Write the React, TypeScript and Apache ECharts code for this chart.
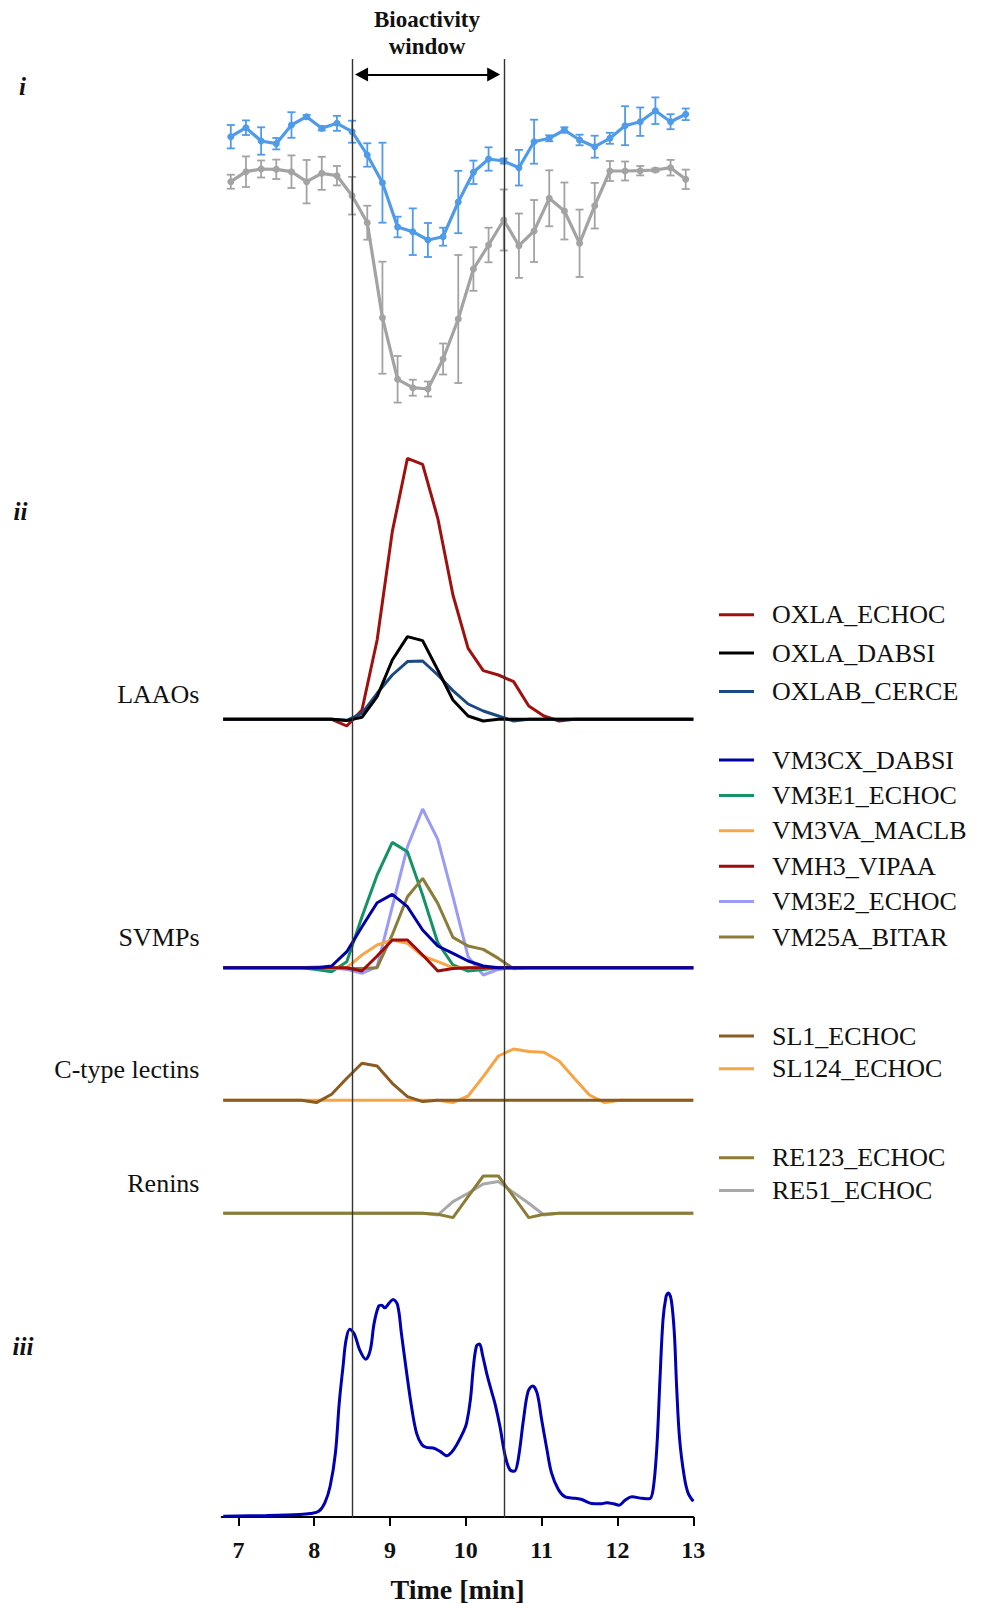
import React, { useEffect, useRef } from "react";
import * as echarts from "echarts";

// ---------- axis ----------
const X_MIN = 6.78;
const X_MAX = 13;
const TIME_TICKS = [7, 8, 9, 10, 11, 12, 13];
const WINDOW_START = 8.5;
const WINDOW_END = 10.5;

// ---------- panel i : bioactivity ----------
const BIO_TIMES = [6.9, 7.1, 7.3, 7.5, 7.7, 7.9, 8.1, 8.3, 8.5, 8.7, 8.9, 9.1, 9.3, 9.5, 9.7, 9.9, 10.1, 10.3, 10.5, 10.7, 10.9, 11.1, 11.3, 11.5, 11.7, 11.9, 12.1, 12.3, 12.5, 12.7, 12.9];
const BLUE_MEAN = [283.3, 292.3, 279, 276.3, 295, 303.3, 291.7, 296.7, 288.3, 265, 237.3, 193, 188.3, 180, 183.3, 218, 247.7, 261, 259, 252.3, 278.3, 281.7, 290, 280, 273.3, 281.7, 294.3, 298.3, 309.3, 298.3, 305.7];
const BLUE_ERR = [11.7, 7.3, 13.7, 5.7, 12.8, 1.7, 2.2, 7.5, 11, 11.7, 40, 10.3, 23.3, 17, 9, 31.2, 11.7, 11.7, 2.5, 17.8, 22, 3, 2.7, 5.3, 11, 5.5, 19.5, 14.2, 13.3, 7.5, 5.8];
const GRAY_MEAN = [238.3, 248.3, 251, 250.7, 248.3, 238.3, 246.7, 244.3, 224.3, 197.3, 102.3, 40.7, 32.3, 31, 61, 101, 151, 175, 200, 174.3, 189, 221.7, 209, 176.7, 214.3, 249, 249, 249.3, 250, 252.3, 240.7];
const GRAY_ERR = [7, 15.3, 8.5, 9.7, 16.3, 21.7, 16.5, 9.7, 18.8, 17, 56, 23.3, 8, 7.5, 15.5, 64, 21.8, 17.3, 30.5, 32.2, 31, 28, 28.5, 33.7, 22.8, 10, 9.5, 4.7, 1.7, 7.8, 9.7];

// ---------- panel ii : proteomics ----------
const FRACTION_TIMES = [6.8, 7.03, 7.23, 7.43, 7.63, 7.83, 8.03, 8.23, 8.43, 8.63, 8.83, 9.03, 9.23, 9.43, 9.63, 9.83, 10.03, 10.23, 10.43, 10.63, 10.83, 11.03, 11.23, 11.43, 11.63, 11.83, 12.03, 12.23, 12.43, 12.63, 12.83, 13.0];

const OXLA_ECHOC = [0, 0, 0, 0, 0, 0, 0, 0, -6.7, 9.3, 79.3, 187.7, 261, 255, 201, 124.3, 71, 48.7, 44.3, 37.7, 13.3, 3.3, -1.7, 0, 0, 0, 0, 0, 0, 0, 0, 0];
const OXLA_DABSI = [0, 0, 0, 0, 0, 0, 0, 0, -1.3, 2, 22.7, 59.3, 82.7, 78.7, 49.3, 19.3, 3.3, -1.7, 0, 0, 0, 0, 0, 0, 0, 0, 0, 0, 0, 0, 0, 0];
const OXLAB_CERCE = [0, 0, 0, 0, 0, 0, 0, 0, -1, 6, 26, 44.3, 57.7, 58.3, 44.3, 28.7, 15.3, 8.3, 3.3, -1.7, 0, 0, 0, 0, 0, 0, 0, 0, 0, 0, 0, 0];

const VM3CX_DABSI = [0, 0, 0, 0, 0, 0, 0, 1.7, 16, 41, 65, 73.3, 61, 37.7, 21.7, 14.3, 6.7, 1.7, 0, 0, 0, 0, 0, 0, 0, 0, 0, 0, 0, 0, 0, 0];
const VM3E1_ECHOC = [0, 0, 0, 0, 0, 0, -1.7, -4, 6, 51, 92.7, 125.3, 116, 72.7, 25, 2.7, -3.3, -1.7, 0, 0, 0, 0, 0, 0, 0, 0, 0, 0, 0, 0, 0, 0];
const VM3VA_MACLB = [0, 0, 0, 0, 0, 0, 1, -0.7, 0, 12.7, 22.7, 27.7, 24.3, 11.7, 6, 0, 0, 0, 0, 0, 0, 0, 0, 0, 0, 0, 0, 0, 0, 0, 0, 0];
const VMH3_VIPAA = [0, 0, 0, 0, 0, 0, 0, 0, 0, -3.3, 11.7, 27.7, 27.7, 12.7, -3.3, -0.7, 0, 0, 0, 0, 0, 0, 0, 0, 0, 0, 0, 0, 0, 0, 0, 0];
const VM3E2_ECHOC = [0, 0, 0, 0, 0, 0, 0, 0, -1.7, -5.7, 1, 61, 121, 158.7, 128.3, 71, 11, -7.3, -1.7, 0, 0, 0, 0, 0, 0, 0, 0, 0, 0, 0, 0, 0];
const VM25A_BITAR = [0, 0, 0, 0, 0, 0, 0, 0, -0.7, -0.7, 0, 33, 71, 89.3, 64.3, 30.3, 21.7, 18.3, 9.3, -1, 0, 0, 0, 0, 0, 0, 0, 0, 0, 0, 0, 0];

const SL1_ECHOC = [0, 0, 0, 0, 0, 0, -2.3, 6, 22, 37, 34.3, 17, 3.7, -1.3, 0, 0, 0, 0, 0, 0, 0, 0, 0, 0, 0, 0, 0, 0, 0, 0, 0, 0];
const SL124_ECHOC = [0, 0, 0, 0, 0, 0, 0, 0, 0, 0, 0, 0, 0, 0, 0, -2.3, 4.3, 23.7, 44.3, 51.3, 48.7, 48, 39.3, 22, 5.3, -2.3, 0, 0, 0, 0, 0, 0];

const RE123_ECHOC = [0, 0, 0, 0, 0, 0, 0, 0, 0, 0, 0, 0, 0, 0, -1, -4.3, 16.7, 37.3, 37.3, 16.7, -4.3, -1, 0, 0, 0, 0, 0, 0, 0, 0, 0, 0];
const RE51_ECHOC = [0, 0, 0, 0, 0, 0, 0, 0, 0, 0, 0, 0, 0, 0, -1.7, 11.7, 20, 29.3, 31.7, 20.7, 10, -1.7, 0, 0, 0, 0, 0, 0, 0, 0, 0, 0];

const GROUP_LABELS = ["LAAOs", "SVMPs", "C-type lectins", "Renins"];
const PANEL_LABELS = ["i", "ii", "iii"];

// ---------- panel iii : chromatogram ----------
const CHROM_TIME = [6.8, 7.37, 7.81, 7.95, 8.06, 8.14, 8.21, 8.28, 8.33, 8.38, 8.42, 8.47, 8.53, 8.6, 8.68, 8.74, 8.79, 8.85, 8.89, 8.93, 8.99, 9.04, 9.1, 9.15, 9.22, 9.29, 9.35, 9.42, 9.48, 9.57, 9.66, 9.75, 9.81, 9.88, 9.97, 10.01, 10.06, 10.1, 10.14, 10.18, 10.22, 10.28, 10.34, 10.39, 10.45, 10.52, 10.58, 10.64, 10.69, 10.76, 10.82, 10.88, 10.94, 11.0, 11.07, 11.13, 11.22, 11.31, 11.44, 11.53, 11.66, 11.77, 11.86, 11.95, 12.02, 12.1, 12.19, 12.32, 12.42, 12.47, 12.52, 12.56, 12.6, 12.64, 12.67, 12.71, 12.75, 12.78, 12.82, 12.88, 12.93, 13.0];
const CHROM_ABS = [0.8, 1.5, 2.5, 3.5, 5.8, 14.2, 30.8, 64.2, 114.2, 150.8, 177.5, 188.2, 183.5, 167.5, 158.2, 167.5, 194.2, 211.5, 212.5, 209.8, 214.8, 218.2, 212.5, 184.2, 144.2, 107.5, 84.2, 72.5, 69.8, 69.2, 65.8, 61.5, 64.8, 72.5, 85.8, 94.2, 117.5, 150.8, 171.5, 173.5, 162.5, 142.5, 125.8, 112, 90.8, 60.8, 47.5, 45.8, 57.5, 97.5, 125.8, 131.5, 124.2, 97.5, 67.5, 44.2, 27.5, 20.2, 18.8, 17.5, 13.5, 13.2, 14.2, 13.2, 11.8, 16.8, 20.2, 18.8, 18.2, 27.5, 70.8, 137.5, 197.5, 220.8, 224.8, 217.5, 184.2, 130.8, 77.5, 40.8, 24.2, 15.8];

const SERIF = "'Liberation Serif', 'Times New Roman', serif";

const COLORS: Record<string, string> = {
  OXLA_ECHOC: "#A0100F",
  OXLA_DABSI: "#000000",
  OXLAB_CERCE: "#1B4A82",
  VM3CX_DABSI: "#0000A8",
  VM3E1_ECHOC: "#169366",
  VM3VA_MACLB: "#F7A648",
  VMH3_VIPAA: "#A00A0A",
  VM3E2_ECHOC: "#9A9AF8",
  VM25A_BITAR: "#8B7C3A",
  SL1_ECHOC: "#8B5C22",
  SL124_ECHOC: "#F6A445",
  RE123_ECHOC: "#8B7D36",
  RE51_ECHOC: "#A8A8A8",
};

const BLUE = "#4F9BEA";
const GRAY = "#A3A3A3";
const CHROM_COLOR = "#0000B4";

function zip(xs: number[], ys: number[]) {
  return xs.map((x, i) => [x, ys[i]]);
}

export default function App() {
  const ref = useRef<HTMLDivElement>(null);

  useEffect(() => {
    document.body.style.margin = "0";
    if (!ref.current) return;
    const chart = echarts.init(ref.current, undefined, { renderer: "svg" });

    const LEFT = 221.7;
    const RIGHT = 985 - 693.3;
    const grids = [
      { top: 58, height: 362 }, // i
      { top: 449.3, height: 280 }, // LAAO
      { top: 797.7, height: 180 }, // SVMP
      { top: 1040.3, height: 70 }, // CTL
      { top: 1168.3, height: 55 }, // Renin
      { top: 1287.7, height: 230 }, // chrom
      { top: 59, height: 1458.7 }, // overlay
    ].map((g) => ({ left: LEFT, right: RIGHT, top: g.top, height: g.height, containLabel: false }));

    const yRanges: [number, number][] = [
      [0, 362],
      [-10, 270],
      [-10, 170],
      [-10, 60],
      [-10, 45],
      [0, 230],
      [0, 1],
    ];

    const xAxes = grids.map((_, i) => {
      const base: any = { type: "value", gridIndex: i, min: X_MIN, max: X_MAX, show: false, splitLine: { show: false } };
      if (i === 5) {
        return {
          ...base,
          show: true,
          name: "Time [min]",
          nameLocation: "middle",
          nameGap: 58,
          nameTextStyle: { fontFamily: SERIF, fontWeight: "bold", fontSize: 28, color: "#111" },
          axisLine: { show: true, onZero: false, lineStyle: { color: "#000", width: 2 } },
          axisTick: { show: true, length: 9, inside: false, customValues: TIME_TICKS, lineStyle: { color: "#000", width: 2 } },
          axisLabel: { show: true, customValues: TIME_TICKS, margin: 21, fontFamily: SERIF, fontWeight: "bold", fontSize: 24, color: "#111" },
        };
      }
      return base;
    });

    const yAxes = grids.map((_, i) => ({
      type: "value",
      gridIndex: i,
      min: yRanges[i][0],
      max: yRanges[i][1],
      show: false,
      splitLine: { show: false },
    }));

    const protLine = (name: string, values: number[], gridIndex: number) => ({
      name,
      type: "line",
      xAxisIndex: gridIndex,
      yAxisIndex: gridIndex,
      data: zip(FRACTION_TIMES, values),
      symbol: "none",
      smooth: false,
      itemStyle: { color: COLORS[name] },
      lineStyle: { color: COLORS[name], width: 3 },
      silent: true,
    });

    const errSeries = (name: string, mean: number[], err: number[], color: string) => ({
      name,
      type: "custom",
      xAxisIndex: 0,
      yAxisIndex: 0,
      data: BIO_TIMES.map((t, i) => [t, mean[i] - err[i], mean[i] + err[i]]),
      encode: { x: 0, y: [1, 2] },
      silent: true,
      renderItem: (params: any, api: any) => {
        const x = api.value(0);
        const lo = api.coord([x, api.value(1)]);
        const hi = api.coord([x, api.value(2)]);
        const w = 4;
        const style = { stroke: color, lineWidth: 1.8 };
        return {
          type: "group",
          children: [
            { type: "line", shape: { x1: lo[0], y1: lo[1], x2: hi[0], y2: hi[1] }, style },
            { type: "line", shape: { x1: lo[0] - w, y1: lo[1], x2: lo[0] + w, y2: lo[1] }, style },
            { type: "line", shape: { x1: hi[0] - w, y1: hi[1], x2: hi[0] + w, y2: hi[1] }, style },
          ],
        };
      },
    });

    const bioLine = (name: string, mean: number[], color: string) => ({
      name,
      type: "line",
      xAxisIndex: 0,
      yAxisIndex: 0,
      data: zip(BIO_TIMES, mean),
      symbol: "circle",
      symbolSize: 7,
      itemStyle: { color },
      lineStyle: { color, width: 3.2 },
      silent: true,
    });

    const series: any[] = [
      errSeries("gray_err", GRAY_MEAN, GRAY_ERR, GRAY),
      bioLine("Bioactivity 2", GRAY_MEAN, GRAY),
      errSeries("blue_err", BLUE_MEAN, BLUE_ERR, BLUE),
      bioLine("Bioactivity 1", BLUE_MEAN, BLUE),
      {
        name: "arrow",
        type: "line",
        xAxisIndex: 0,
        yAxisIndex: 0,
        data: [],
        silent: true,
        markLine: {
          silent: true,
          symbol: ["triangle", "triangle"],
          symbolSize: [14, 13],
          label: { show: false },
          lineStyle: { color: "#000", width: 2, type: "solid" },
          data: [[{ coord: [8.625, 345.5] }, { coord: [10.367, 345.5] }]],
        },
      },
      // LAAOs
      protLine("OXLA_ECHOC", OXLA_ECHOC, 1),
      protLine("OXLAB_CERCE", OXLAB_CERCE, 1),
      protLine("OXLA_DABSI", OXLA_DABSI, 1),
      // SVMPs
      protLine("VM3E2_ECHOC", VM3E2_ECHOC, 2),
      protLine("VM3E1_ECHOC", VM3E1_ECHOC, 2),
      protLine("VM25A_BITAR", VM25A_BITAR, 2),
      protLine("VM3VA_MACLB", VM3VA_MACLB, 2),
      protLine("VMH3_VIPAA", VMH3_VIPAA, 2),
      protLine("VM3CX_DABSI", VM3CX_DABSI, 2),
      // C-type lectins
      protLine("SL124_ECHOC", SL124_ECHOC, 3),
      protLine("SL1_ECHOC", SL1_ECHOC, 3),
      // Renins
      protLine("RE51_ECHOC", RE51_ECHOC, 4),
      protLine("RE123_ECHOC", RE123_ECHOC, 4),
      // chromatogram
      {
        name: "UV",
        type: "line",
        xAxisIndex: 5,
        yAxisIndex: 5,
        data: zip(CHROM_TIME, CHROM_ABS),
        symbol: "none",
        smooth: 0.35,
        itemStyle: { color: CHROM_COLOR },
        lineStyle: { color: CHROM_COLOR, width: 3 },
        silent: true,
      },
      // bioactivity window lines
      {
        name: "window",
        type: "line",
        xAxisIndex: 6,
        yAxisIndex: 6,
        data: [],
        silent: true,
        z: 10,
        markLine: {
          silent: true,
          symbol: ["none", "none"],
          label: { show: false },
          lineStyle: { color: "#333", width: 1.4, type: "solid" },
          data: [{ xAxis: WINDOW_START }, { xAxis: WINDOW_END }],
        },
      },
    ];

    const legendBase = {
      orient: "vertical",
      left: 719,
      padding: 0,
      itemWidth: 35,
      itemHeight: 3,
      icon: "rect",
      selectedMode: false,
      textStyle: { fontFamily: SERIF, fontSize: 26, color: "#111", padding: [0, 0, 0, 13] },
    };

    const legends = [
      { ...legendBase, top: 601.7, itemGap: 12.4, data: ["OXLA_ECHOC", "OXLA_DABSI", "OXLAB_CERCE"] },
      { ...legendBase, top: 747, itemGap: 9.4, data: ["VM3CX_DABSI", "VM3E1_ECHOC", "VM3VA_MACLB", "VMH3_VIPAA", "VM3E2_ECHOC", "VM25A_BITAR"] },
      { ...legendBase, top: 1023, itemGap: 6.7, data: ["SL1_ECHOC", "SL124_ECHOC"] },
      { ...legendBase, top: 1144.8, itemGap: 6.7, data: ["RE123_ECHOC", "RE51_ECHOC"] },
    ];

    const groupY = [694.5, 937, 1069, 1183.4];
    const panelPos = [
      [22.5, 86],
      [20.5, 511],
      [23, 1346],
    ];

    const graphic: any[] = [
      {
        type: "text",
        x: 427,
        y: 19,
        style: { text: "Bioactivity", font: `bold 23px ${SERIF}`, fill: "#111", align: "center", verticalAlign: "middle", textAlign: "center", textVerticalAlign: "middle" },
      },
      {
        type: "text",
        x: 427,
        y: 46,
        style: { text: "window", font: `bold 23px ${SERIF}`, fill: "#111", align: "center", verticalAlign: "middle", textAlign: "center", textVerticalAlign: "middle" },
      },
      ...GROUP_LABELS.map((t, i) => ({
        type: "text",
        x: 199.5,
        y: groupY[i],
        style: { text: t, font: `26px ${SERIF}`, fill: "#111", align: "right", verticalAlign: "middle", textAlign: "right", textVerticalAlign: "middle" },
      })),
      ...PANEL_LABELS.map((t, i) => ({
        type: "text",
        x: panelPos[i][0],
        y: panelPos[i][1],
        style: { text: t, font: `italic bold 25px ${SERIF}`, fill: "#111", align: "center", verticalAlign: "middle", textAlign: "center", textVerticalAlign: "middle" },
      })),
    ];

    chart.setOption({
      animation: false,
      backgroundColor: "#fff",
      grid: grids,
      xAxis: xAxes,
      yAxis: yAxes,
      legend: legends,
      series,
      graphic,
    });

    return () => chart.dispose();
  }, []);

  return <div ref={ref} style={{ width: 985, height: 1604 }} />;
}
